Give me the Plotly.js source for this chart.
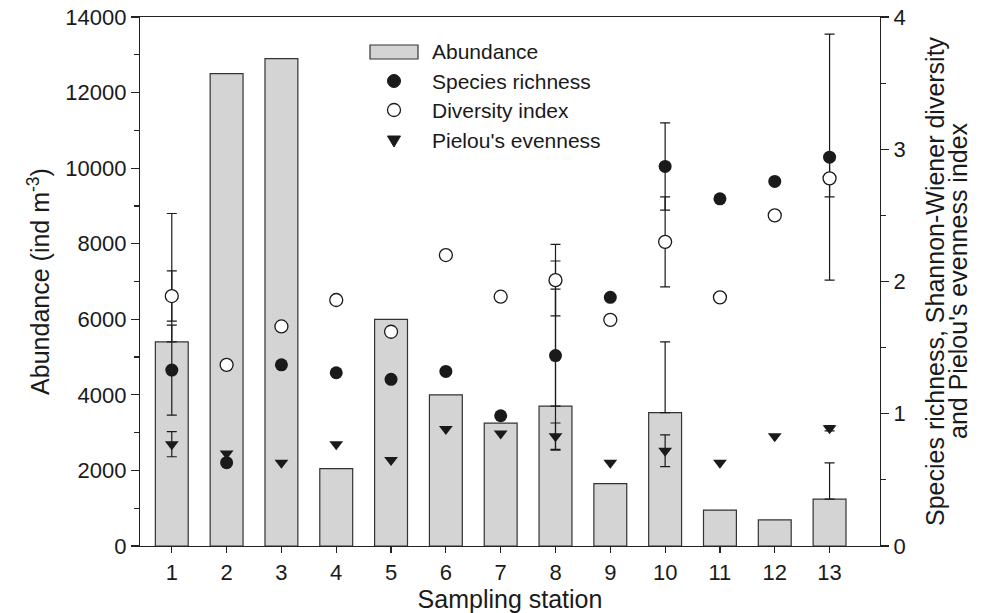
<!DOCTYPE html>
<html>
<head>
<meta charset="utf-8">
<script src="https://cdn.plot.ly/plotly-3.0.1.min.js"></script>
<style>html,body{margin:0;padding:0;background:#fff}#chart{width:982px;height:613px}</style>
</head>
<body>
<div id="chart"></div>
<script>
// ---- data ----
var stations = [1,2,3,4,5,6,7,8,9,10,11,12,13];
var abundance    = [5400,12500,12900,2050,6000,4000,3250,3700,1650,3530,950,690,1240];
var abundanceErr = [3400,null,null,null,null,null,null,3100,null,1870,null,null,960];
var richness     = [1.33,0.63,1.37,1.31,1.26,1.32,0.985,1.44,1.88,2.87,2.625,2.757,2.94];
var richnessErr  = [0.34,null,null,null,null,null,null,0.715,null,0.33,null,null,0.93];
var diversity    = [1.89,1.37,1.66,1.86,1.62,2.20,1.885,2.01,1.71,2.30,1.88,2.50,2.78];
var diversityErr = [0.19,null,null,null,null,null,null,0.27,null,0.34,null,null,0.14];
var evenness     = [0.77,0.70,0.63,0.77,0.65,0.885,0.85,0.83,0.63,0.72,0.63,0.83,0.89];
var evennessErr  = [0.095,null,null,null,null,null,null,0.10,null,0.12,null,null,0.02];
var legendLabels = ["Abundance","Species richness","Diversity index","Pielou's evenness"];
var xTitle = "Sampling station";
var yTitle = "Abundance (ind m<sup>-3</sup>)";
var y2TitleLines = ["Species richness, Shannon-Wiener diversity", "and Pielou's evenness index"];

function errArr(a){ return a.map(function(v){ return v === null ? NaN : v; }); }
function zeros(a){ return a.map(function(v){ return v === null ? NaN : 0; }); }

var FONT = "Liberation Sans, Arial, Helvetica, sans-serif";
var INK = "#1a1a1a";

var traces = [
  {
    type: "bar", x: stations, y: abundance, yaxis: "y", name: legendLabels[0],
    width: 0.6,
    marker: {color: "#d4d4d4", line: {color: "#333", width: 1.2}},
    error_y: {type: "data", symmetric: false, array: errArr(abundanceErr), arrayminus: zeros(abundanceErr),
              color: INK, thickness: 1.2, width: 5},
    showlegend: false, hoverinfo: "x+y"
  },
  {
    type: "scatter", mode: "markers", x: stations, y: richness, yaxis: "y2", name: legendLabels[1],
    marker: {symbol: "circle", size: 13, color: INK},
    error_y: {type: "data", array: errArr(richnessErr), color: INK, thickness: 1.2, width: 5},
    showlegend: false
  },
  {
    type: "scatter", mode: "markers", x: stations, y: evenness, yaxis: "y2", name: legendLabels[3],
    marker: {symbol: "triangle-down", size: 12, color: INK},
    error_y: {type: "data", array: errArr(evennessErr), color: INK, thickness: 1.2, width: 5},
    showlegend: false
  },
  {
    type: "scatter", mode: "markers", x: stations, y: diversity, yaxis: "y2", name: legendLabels[2],
    marker: {symbol: "circle", size: 13, color: "#fff", line: {color: INK, width: 1.3}},
    error_y: {type: "data", array: errArr(diversityErr), color: INK, thickness: 1.2, width: 5},
    showlegend: false
  }
];

// manual legend (paper coordinates)
var L = 140, R = 880, T = 17, B = 546;
function px(x){ return (x - L) / (R - L); }
function py(y){ return (B - y) / (B - T); }
var legY = [52, 81, 110, 140];
var symX = 394, textX = 430;

var shapes = [
  {type: "rect", xref: "paper", yref: "paper", x0: px(370), x1: px(418), y0: py(legY[0]+7), y1: py(legY[0]-7),
   fillcolor: "#d4d4d4", line: {color: "#333", width: 1.2}},
  {type: "circle", xref: "paper", yref: "paper", xsizemode: "pixel", ysizemode: "pixel",
   xanchor: px(symX), yanchor: py(legY[1]), x0: -6.5, x1: 6.5, y0: -6.5, y1: 6.5,
   fillcolor: INK, line: {color: INK, width: 1}},
  {type: "circle", xref: "paper", yref: "paper", xsizemode: "pixel", ysizemode: "pixel",
   xanchor: px(symX), yanchor: py(legY[2]), x0: -6.5, x1: 6.5, y0: -6.5, y1: 6.5,
   fillcolor: "#fff", line: {color: INK, width: 1.3}},
  {type: "path", xref: "paper", yref: "paper", xsizemode: "pixel", ysizemode: "pixel",
   xanchor: px(symX), yanchor: py(legY[3]),
   path: "M-6.5,4 L6.5,4 L0,-7 Z", fillcolor: INK, line: {color: INK, width: 1}}
];

var annotations = legendLabels.map(function(t, i){
  return {text: t, xref: "paper", yref: "paper", x: px(textX), y: py(legY[i]),
          xanchor: "left", yanchor: "middle", showarrow: false,
          font: {family: FONT, size: 21, color: INK}};
});
// right-axis title, two tightly spaced lines
var y2LineX = [935, 958];
y2TitleLines.forEach(function(t, i){
  annotations.push({text: t, xref: "paper", yref: "paper", x: px(y2LineX[i]), y: py(281),
    xanchor: "center", yanchor: "middle", textangle: -90, showarrow: false,
    font: {family: FONT, size: 25, color: INK}});
});

var axisCommon = {
  showline: true, linecolor: "#222", linewidth: 1.2, ticks: "outside", tickcolor: "#222",
  tickwidth: 1.2, showgrid: false, zeroline: false,
  tickfont: {family: FONT, size: 22, color: INK}
};

var layout = {
  width: 982, height: 613,
  margin: {l: L, r: 982 - R, t: T, b: 613 - B},
  paper_bgcolor: "#fff", plot_bgcolor: "#fff",
  font: {family: FONT, color: INK},
  showlegend: false,
  xaxis: Object.assign({}, axisCommon, {
    range: [0.42, 13.92], tickvals: stations, ticklen: 6, mirror: true,
    title: {text: xTitle, font: {family: FONT, size: 25, color: INK}, standoff: 2}
  }),
  yaxis: Object.assign({}, axisCommon, {
    range: [0, 14000], dtick: 2000, ticklen: 8, tickformat: "d",
    minor: {dtick: 1000, ticklen: 5, ticks: "outside", tickcolor: "#222", tickwidth: 1.2},
    title: {text: yTitle, font: {family: FONT, size: 25, color: INK}, standoff: 8}
  }),
  yaxis2: Object.assign({}, axisCommon, {
    range: [0, 4], dtick: 1, ticklen: 8, overlaying: "y", side: "right",
    minor: {dtick: 0.5, ticklen: 5, ticks: "outside", tickcolor: "#222", tickwidth: 1.2}
  }),
  shapes: shapes,
  annotations: annotations
};

Plotly.newPlot("chart", traces, layout, {displayModeBar: false, staticPlot: true});
</script>
</body>
</html>
